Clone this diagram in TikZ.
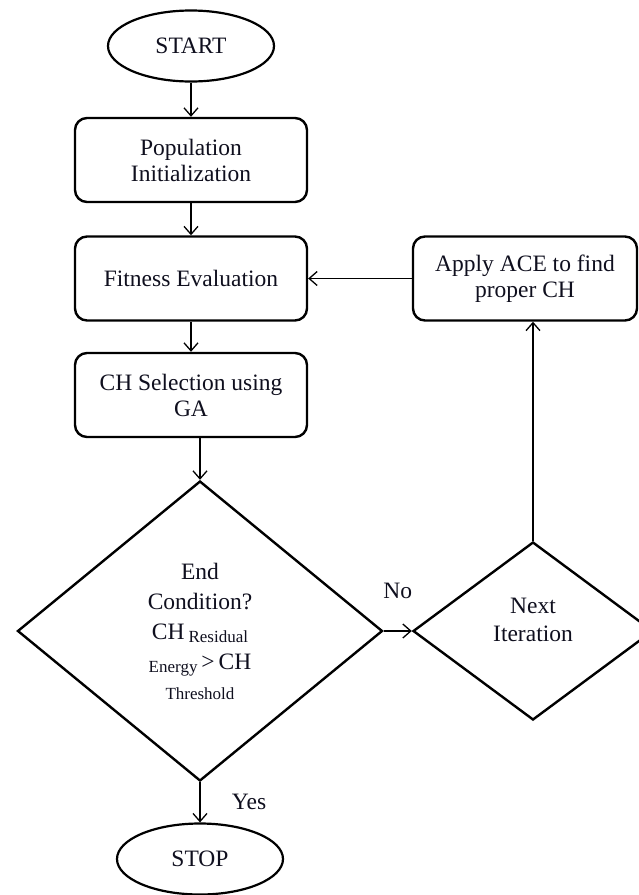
\documentclass[tikz,border=0pt]{standalone}
\usepackage{fontspec}
\setmainfont{Liberation Serif}
\usetikzlibrary{shapes.geometric, arrows.meta, positioning}
\definecolor{inkline}{RGB}{0,0,0}
\definecolor{inktext}{RGB}{15,15,30}
\newcommand{\flowsub}{\fontsize{17}{18}\selectfont}

\tikzset{
  termnode/.style={draw=inkline, ellipse, line width=2.2pt, minimum width=166pt,
    minimum height=71pt, inner sep=0pt, text=inktext, font=\fontsize{23.5}{26}\selectfont},
  procbox/.style={draw=inkline, rounded corners=12pt, line width=2.4pt, minimum width=232pt,
    minimum height=84pt, align=center, text=inktext, font=\fontsize{23.5}{26}\selectfont},
  decide/.style={draw=inkline, diamond, line width=2.4pt, inner sep=0pt, align=center,
    text=inktext, font=\fontsize{23.5}{30}\selectfont},
  flowarrow/.style={-{Straight Barb[length=8pt,width=14pt]}, line width=1.3pt, draw=inkline},
  flowlabel/.style={text=inktext, align=center, font=\fontsize{23.5}{28}\selectfont}
}

\begin{document}
\begin{tikzpicture}[x=1pt, y=-1pt]
  \useasboundingbox (0,0) rectangle (639,895);

  % Start terminal
  \node[termnode] (start) at (191,46) {START};

  % Main process column
  \node[procbox] (popinit) at (191,160) {Population\\Initialization};
  \node[procbox] (fiteval) at (191,278.5) {Fitness Evaluation};
  \node[procbox] (chsel) at (191,395) {CH Selection using\\GA};

  % Feedback box
  \node[procbox, minimum width=224pt] (applyace) at (525,278.5) {Apply ACE to find\\proper CH};

  % Decisions
  \node[decide, minimum width=365pt, minimum height=300pt] (endcond) at (200,631)
    {End\\Condition?\\CH\,\raisebox{-3pt}{\flowsub Residual}\\
     \raisebox{-3pt}{\flowsub Energy}\,>\,CH\\{\flowsub Threshold}};
  \node[decide, minimum width=240pt, minimum height=178pt] (nextiter) at (533,631) {};
  \node[flowlabel] (nextlabel) at ([yshift=11pt]nextiter.center) {Next\\Iteration};

  % Stop terminal
  \node[termnode] (stop) at (200,859) {STOP};

  % Connectors
  \draw[flowarrow] (start.south) -- (popinit.north);
  \draw[flowarrow] (popinit.south) -- (fiteval.north);
  \draw[flowarrow] (fiteval.south) -- (chsel.north);
  \draw[flowarrow] (chsel.south -| endcond.north) -- (endcond.north);
  \draw[flowarrow] (endcond.south) -- (stop.north)
    node[flowlabel, midway, right=28pt] {Yes};
  \draw[flowarrow] (endcond.east) -- (nextiter.west)
    node[flowlabel, midway, above=28pt] {No};
  \draw[flowarrow] (nextiter.north) -- (nextiter.north |- applyace.south);
  \draw[flowarrow] (applyace.west) -- (fiteval.east);
\end{tikzpicture}
\end{document}
